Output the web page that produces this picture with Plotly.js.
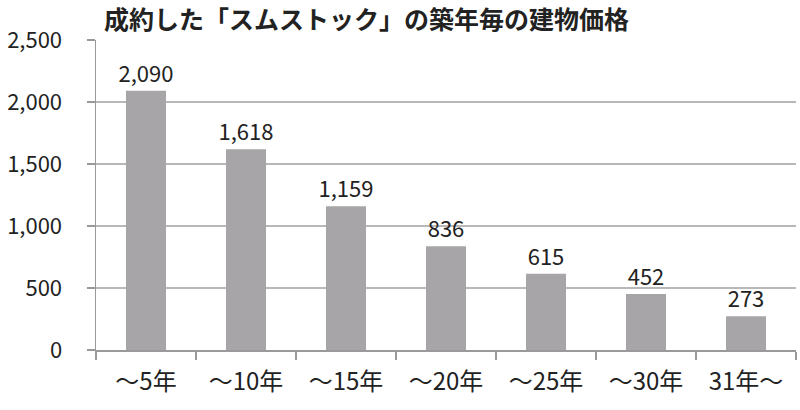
<!DOCTYPE html>
<html>
<head>
<meta charset="utf-8">
<script src="https://cdn.plot.ly/plotly-3.0.1.min.js"></script>
<style>
  html, body { margin: 0; padding: 0; background: #fff; }
  #chart { width: 800px; height: 410px; }
</style>
</head>
<body>
<div id="chart"></div>
<script>
const categories = ['～5年', '～10年', '～15年', '～20年', '～25年', '～30年', '31年～'];
const prices = [2090, 1618, 1159, 836, 615, 452, 273];
const yTicks = [0, 500, 1000, 1500, 2000, 2500];

const font = '"Noto Sans CJK JP", "Noto Sans", sans-serif';

Plotly.newPlot('chart', [{
    type: 'bar',
    x: categories,
    y: prices,
    marker: { color: '#a7a5a7' },
    text: prices.map(v => v.toLocaleString('en-US')),
    textposition: 'outside',
    constraintext: 'none',
    textfont: { family: font, size: 22, color: '#222' },
    cliponaxis: false,
    hoverinfo: 'none'
}], {
    width: 800,
    height: 410,
    paper_bgcolor: '#fff',
    plot_bgcolor: '#fff',
    font: { family: font, color: '#222' },
    margin: { l: 96, r: 4, t: 40, b: 60 },
    bargap: 0.6,
    showlegend: false,
    title: {
        text: '<b>成約した「スムストック」の築年毎の建物価格</b>',
        font: { family: font, size: 25, color: '#222' },
        x: 0, xref: 'paper', xanchor: 'left',
        y: 1 - 20 / 410, yref: 'container', yanchor: 'middle',
        pad: { l: 8 }
    },
    xaxis: {
        type: 'category',
        showline: true,
        linecolor: '#9a9a9a',
        linewidth: 1.5,
        ticks: 'outside',
        tickson: 'boundaries',
        ticklen: 8,
        tickcolor: '#9a9a9a',
        tickwidth: 1.5,
        showgrid: false,
        tickfont: { family: font, size: 24, color: '#222' },
        ticklabelstandoff: 10
    },
    yaxis: {
        range: [0, 2500],
        tickvals: yTicks,
        ticktext: yTicks.map(v => v.toLocaleString('en-US')),
        showline: true,
        linecolor: '#9a9a9a',
        linewidth: 1.5,
        ticks: 'outside',
        ticklen: 8,
        tickcolor: '#9a9a9a',
        tickwidth: 1.5,
        showgrid: true,
        gridcolor: '#b8b8b8',
        gridwidth: 1.5,
        zeroline: false,
        tickfont: { family: font, size: 22, color: '#222' },
        ticklabelstandoff: 20
    }
}, { displayModeBar: false, staticPlot: true });
</script>
</body>
</html>
